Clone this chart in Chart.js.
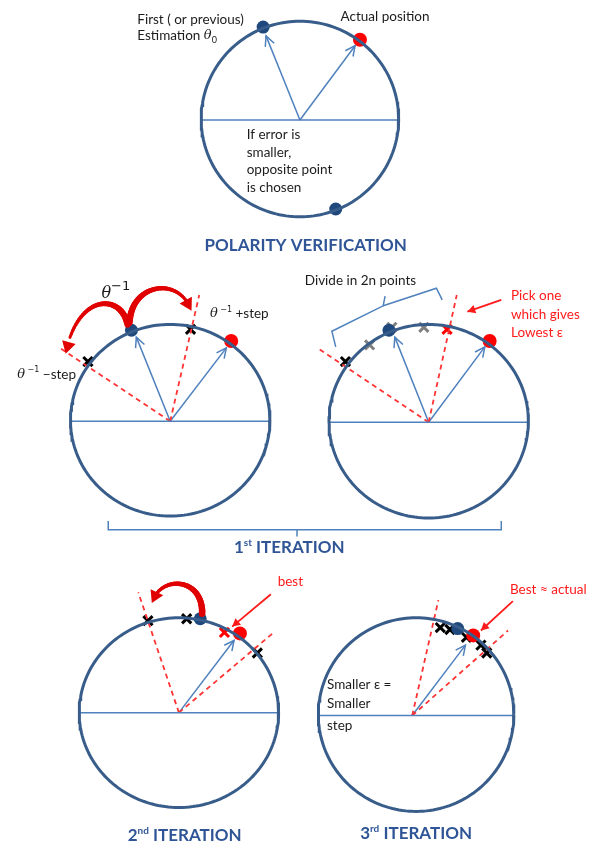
<!DOCTYPE html>
<html lang="en">
<head>
<meta charset="UTF-8">
<title>Polarity verification and iterations</title>
<script src="https://cdn.jsdelivr.net/npm/chart.js"></script>
<style>
  body { margin: 0; background: #fff; }
  #diagram { display: block; }
</style>
</head>
<body>
<canvas id="diagram" width="595" height="861"></canvas>
<script>
// diagram units are page pixels: x to the right, y downwards

// the five circles (top, 1st iteration left/right, 2nd, 3rd)
const circleCX = [300, 166, 433, 175, 420];
const circleCY = [112, 420, 421, 719, 721];
const circleRX = [102, 103, 103, 103, 101];
const circleRY = [100, 98, 99, 97, 99];

// centre each radius starts from
const originX = [300, 166, 433, 175, 416];
const originY = [113, 421, 422, 719, 722];

// blue arrows: [circle index, tip x, tip y]
const blueArrows = [[0, 265, 27], [0, 357, 37], [1, 131, 335], [1, 224, 346],
                    [2, 398, 335], [2, 491, 345], [3, 232, 645], [4, 471, 650]];

// red dashed search limits: [circle index, end x, end y]
const dashedLimits = [[1, 52, 346], [1, 196, 292], [2, 318, 346], [2, 462, 292],
                      [3, 133, 596], [3, 273, 637], [4, 443, 604], [4, 515, 635]];

// estimations (blue) and actual positions (red)
const estimations = [[262, 18], [337, 204], [126, 328], [392, 328], [197, 623], [463, 633]];
const actuals = [[362, 31], [229, 339], [496, 339], [238, 638], [479, 640]];

// tested points
const testedBlack = [[187, 327], [81, 360], [347, 360], [143, 625], [183, 623], [256, 658],
                     [445, 632], [455, 634], [472, 642], [487, 650], [493, 658]];
const testedGray = [[372, 343], [395, 325], [428, 325]];
const testedBest = [[452, 327], [222, 637]];

// thin red pointer arrows: start -> tip
const pointers = [[[508, 297], [473, 309]], [[270, 598], [230, 631]], [[520, 605], [487, 635]]];

// thick curved red arrows (cubic: start, c1, c2, tip)
const jumps = [
  [[122, 322], [115, 290], [70, 290], [58, 352]],
  [[124, 320], [126, 280], [175, 272], [188, 308]],
  [[199, 618], [200, 580], [155, 578], [147, 607]]
];

// braces
const braces = [
  [[337, 345], [333, 329], [386, 303], [388, 293]],
  [[386, 303], [441, 285], [447, 297]],
  [[102, 523], [102, 532], [508, 532], [508, 523]],
  [[297, 532], [297, 539]]
];

const F = "Lato, 'Open Sans', sans-serif";
const NOTE = '13.5px ' + F;
const TXT = '#1c1c1c';
const RED = '#ff1a1a';
const HEAD = '#2f5597';
const SERIF = "'DejaVu Serif', serif";

// plain note lines: [text, x, y, colour]
const notes = [
  ['First ( or previous)', 132, 10, TXT],
  ['Actual position', 342, 7, TXT],
  ['If error is', 245, 128, TXT],
  ['smaller,', 245, 146, TXT],
  ['opposite point', 245, 164, TXT],
  ['is chosen', 245, 182, TXT],
  ['Divide in 2n points', 305, 277, TXT],
  ['Pick one', 518, 293, RED],
  ['which gives', 518, 312, RED],
  ['Lowest ε', 518, 330, RED],
  ['best', 277, 585, RED],
  ['Best ≈ actual', 517, 593, RED],
  ['Smaller ε =', 328, 690, TXT],
  ['Smaller', 328, 710, TXT],
  ['step', 328, 732, TXT]
];

// labels with mixed fonts: [x, y, align, parts]
const richLabels = [
  [132, 27, 'left', [{t: 'Estimation ', f: NOTE}, {t: 'θ', f: 'italic 13px ' + SERIF}, {t: '0', f: '9px ' + F, dy: 4}]],
  [95, 291, 'left', [{t: 'θ', f: 'italic 16px ' + SERIF}, {t: '−1', f: "13px 'DejaVu Sans', sans-serif", dy: -7}]],
  [207, 311, 'left', [{t: 'θ', f: 'italic 13px ' + SERIF}, {t: ' −1', f: "8px 'DejaVu Sans', sans-serif", dy: -4}, {t: ' +step', f: NOTE}]],
  [8, 373, 'left', [{t: 'θ', f: 'italic 13px ' + SERIF}, {t: ' −1', f: "8px 'DejaVu Sans', sans-serif", dy: -4}, {t: ' −step', f: NOTE}]],
  [306, 241, 'center', [{t: 'POLARITY VERIFICATION', f: 'bold 17px ' + F, c: HEAD}]],
  [289, 550, 'center', [{t: '1', f: 'bold 17px ' + F, c: HEAD}, {t: 'st', f: 'bold 10px ' + F, c: HEAD, dy: -5}, {t: ' ITERATION', f: 'bold 17px ' + F, c: HEAD}]],
  [181, 845, 'center', [{t: '2', f: 'bold 17px ' + F, c: HEAD}, {t: 'nd', f: 'bold 10px ' + F, c: HEAD, dy: -5}, {t: ' ITERATION', f: 'bold 17px ' + F, c: HEAD}]],
  [420, 843, 'center', [{t: '3', f: 'bold 17px ' + F, c: HEAD}, {t: 'rd', f: 'bold 10px ' + F, c: HEAD, dy: -5}, {t: ' ITERATION', f: 'bold 17px ' + F, c: HEAD}]]
];

const pt = p => ({x: p[0], y: p[1]});
const datasets = [];

// circle outlines and their horizontal diameters
circleCX.forEach((cx, i) => {
  const pts = [];
  for (let k = 0; k <= 180; k++) {
    const a = k / 180 * Math.PI * 2;
    pts.push({x: cx + circleRX[i] * Math.cos(a), y: circleCY[i] + circleRY[i] * Math.sin(a)});
  }
  datasets.push({data: pts, showLine: true, borderColor: '#385d8a', borderWidth: 3, pointRadius: 0});
  datasets.push({data: [{x: cx - circleRX[i], y: originY[i]}, {x: cx + circleRX[i], y: originY[i]}],
    showLine: true, borderColor: '#4f81bd', borderWidth: 1.5, pointRadius: 0});
});

dashedLimits.forEach(d => {
  datasets.push({data: [{x: originX[d[0]], y: originY[d[0]]}, {x: d[1], y: d[2]}],
    showLine: true, borderColor: '#ff3333', borderWidth: 1.8, borderDash: [5, 4], pointRadius: 0});
});

blueArrows.forEach(d => {
  datasets.push({data: [{x: originX[d[0]], y: originY[d[0]]}, {x: d[1], y: d[2]}],
    showLine: true, borderColor: '#4f81bd', borderWidth: 1.5, pointRadius: 0, arrowHead: 'open'});
});

pointers.forEach(d => {
  datasets.push({data: d.map(pt), showLine: true, borderColor: RED, borderWidth: 1.8,
    pointRadius: 0, arrowHead: 'filled'});
});

braces.forEach(d => {
  datasets.push({data: d.map(pt), showLine: true, borderColor: '#4f81bd', borderWidth: 1.5, pointRadius: 0});
});

datasets.push({data: estimations.map(pt), pointStyle: 'circle', pointRadius: 6.5,
  backgroundColor: '#1f497d', borderColor: '#1f497d', borderWidth: 0});
datasets.push({data: actuals.map(pt), pointStyle: 'circle', pointRadius: 7,
  backgroundColor: '#ff0000', borderColor: '#ff0000', borderWidth: 0});
datasets.push({data: testedGray.map(pt), pointStyle: 'crossRot', pointRadius: 6.5,
  borderColor: '#808080', pointBorderWidth: 3});
datasets.push({data: testedBest.map(pt), pointStyle: 'crossRot', pointRadius: 6.5,
  borderColor: '#ff0000', pointBorderWidth: 3});
datasets.push({data: testedBlack.map(pt), pointStyle: 'crossRot', pointRadius: 6.5,
  borderColor: '#000000', pointBorderWidth: 3});

// arrow heads, curved jumps and all text
const extras = {
  id: 'extras',
  afterDatasetsDraw(chart) {
    const ctx = chart.ctx;
    const sx = chart.scales.x, sy = chart.scales.y;
    const P = p => [sx.getPixelForValue(p[0]), sy.getPixelForValue(p[1])];
    ctx.save();

    chart.data.datasets.forEach((ds, i) => {
      if (!ds.arrowHead) return;
      const pts = chart.getDatasetMeta(i).data;
      const a = pts[pts.length - 2], b = pts[pts.length - 1];
      const ang = Math.atan2(b.y - a.y, b.x - a.x);
      const len = ds.arrowHead === 'open' ? 11 : 9;
      const spread = ds.arrowHead === 'open' ? 0.45 : 0.5;
      ctx.strokeStyle = ds.borderColor;
      ctx.fillStyle = ds.borderColor;
      ctx.lineWidth = 1.5;
      ctx.beginPath();
      ctx.moveTo(b.x - len * Math.cos(ang - spread), b.y - len * Math.sin(ang - spread));
      ctx.lineTo(b.x, b.y);
      ctx.lineTo(b.x - len * Math.cos(ang + spread), b.y - len * Math.sin(ang + spread));
      if (ds.arrowHead === 'filled') { ctx.closePath(); ctx.fill(); } else { ctx.stroke(); }
    });

    jumps.forEach(j => {
      const [p0, p1, p2, p3] = j.map(P);
      const bez = t => {
        const u = 1 - t;
        return [u*u*u*p0[0] + 3*u*u*t*p1[0] + 3*u*t*t*p2[0] + t*t*t*p3[0],
                u*u*u*p0[1] + 3*u*u*t*p1[1] + 3*u*t*t*p2[1] + t*t*t*p3[1]];
      };
      ctx.strokeStyle = '#e00000';
      ctx.lineCap = 'round';
      const n = 40;
      for (let k = 0; k < n - 4; k++) {
        const q0 = bez(k / n), q1 = bez((k + 1) / n);
        ctx.lineWidth = 6.5 - 4 * k / n;
        ctx.beginPath(); ctx.moveTo(q0[0], q0[1]); ctx.lineTo(q1[0], q1[1]); ctx.stroke();
      }
      const e = p3, s = bez(0.88);
      const ang = Math.atan2(e[1] - s[1], e[0] - s[0]);
      ctx.fillStyle = '#e00000';
      ctx.beginPath();
      ctx.moveTo(e[0], e[1]);
      ctx.lineTo(e[0] - 12 * Math.cos(ang) + 7 * Math.sin(ang), e[1] - 12 * Math.sin(ang) - 7 * Math.cos(ang));
      ctx.lineTo(e[0] - 12 * Math.cos(ang) - 7 * Math.sin(ang), e[1] - 12 * Math.sin(ang) + 7 * Math.cos(ang));
      ctx.closePath();
      ctx.fill();
    });

    ctx.textBaseline = 'middle';
    ctx.textAlign = 'left';
    notes.forEach(n => {
      const [x, y] = P([n[1], n[2]]);
      ctx.font = NOTE;
      ctx.fillStyle = n[3];
      ctx.fillText(n[0], x, y);
    });

    richLabels.forEach(l => {
      const [x, y] = P([l[0], l[1]]);
      let w = 0;
      l[3].forEach(p => { ctx.font = p.f; w += ctx.measureText(p.t).width; });
      let cx = l[2] === 'center' ? x - w / 2 : x;
      l[3].forEach(p => {
        ctx.font = p.f;
        ctx.fillStyle = p.c || TXT;
        ctx.fillText(p.t, cx, y + (p.dy || 0));
        cx += ctx.measureText(p.t).width;
      });
    });
    ctx.restore();
  }
};

new Chart(document.getElementById('diagram').getContext('2d'), {
  type: 'scatter',
  data: {datasets: datasets},
  options: {
    responsive: false,
    animation: false,
    events: [],
    layout: {padding: 0},
    plugins: {legend: {display: false}, tooltip: {enabled: false}},
    scales: {
      x: {type: 'linear', min: 0, max: 595, display: false},
      y: {type: 'linear', min: 0, max: 861, reverse: true, display: false}
    }
  },
  plugins: [extras]
});
</script>
</body>
</html>
